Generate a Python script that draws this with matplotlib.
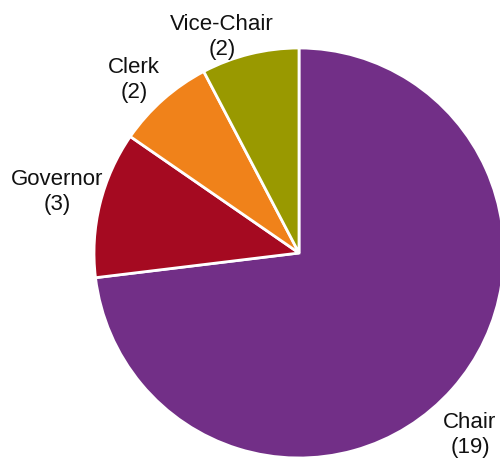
import numpy as np
import matplotlib
matplotlib.use("Agg")
import matplotlib.pyplot as plt

plt.rcParams['font.family'] = ['Liberation Sans', 'DejaVu Sans']

# Data
roles = ["Chair", "Governor", "Clerk", "Vice-Chair"]
counts = [19, 3, 2, 2]
colors = ["#722F87", "#A50A21", "#F0821A", "#999900"]

# label centres as placed in the reference (pixels, origin bottom-left)
label_pos = [(470, 30), (57, 273), (134, 385), (222, 428)]

labels = [f"{r}\n({c})" for r, c in zip(roles, counts)]

fig = plt.figure(figsize=(5.0, 4.65), dpi=100)
ax = fig.add_axes([0, 0, 1, 1])

wedges, texts = ax.pie(counts, labels=labels, colors=colors,
                       startangle=90, counterclock=False,
                       center=(299, 212), radius=205,
                       labeldistance=1.18,
                       wedgeprops=dict(edgecolor="white", linewidth=2),
                       textprops=dict(fontsize=16, color="#111111"))

for t, p in zip(texts, label_pos):
    t.set_horizontalalignment("center")
    t.set_verticalalignment("center")
    t.set_multialignment("center")
    t.set_linespacing(1.25)
    t.set_position(p)

ax.set_xlim(0, 500)
ax.set_ylim(0, 465)
ax.set_aspect("equal")
ax.axis("off")

fig.savefig("out.png", dpi=100, facecolor="white")
